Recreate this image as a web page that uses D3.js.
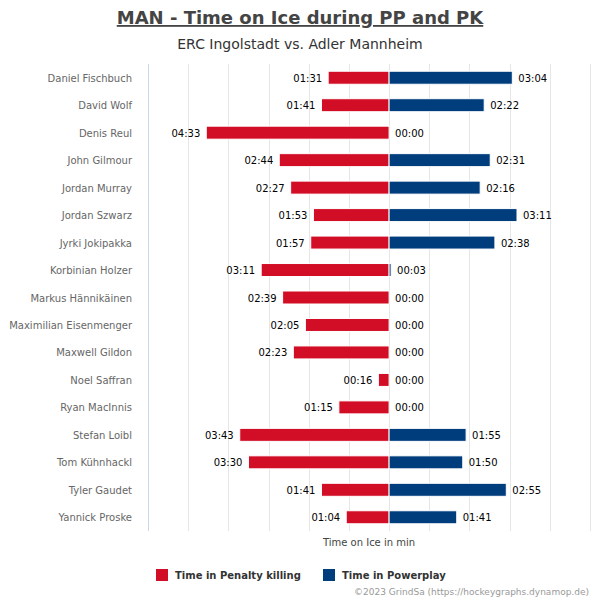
<!DOCTYPE html>
<html>
<head>
<meta charset="utf-8">
<script src="https://cdn.jsdelivr.net/npm/d3@7"></script>
<style>
  body { margin: 0; background: #fff; }
  text { font-family: "DejaVu Sans", sans-serif; }
</style>
</head>
<body>
<div id="chart"></div>
<script>
// Players and their time on ice, in "mm:ss"
var players = ["Daniel Fischbuch", "David Wolf", "Denis Reul", "John Gilmour", "Jordan Murray",
  "Jordan Szwarz", "Jyrki Jokipakka", "Korbinian Holzer", "Markus Hännikäinen",
  "Maximilian Eisenmenger", "Maxwell Gildon", "Noel Saffran", "Ryan MacInnis",
  "Stefan Loibl", "Tom Kühnhackl", "Tyler Gaudet", "Yannick Proske"];
var penaltyKilling = ["01:31", "01:41", "04:33", "02:44", "02:27", "01:53", "01:57", "03:11", "02:39",
  "02:05", "02:23", "00:16", "01:15", "03:43", "03:30", "01:41", "01:04"];
var powerplay = ["03:04", "02:22", "00:00", "02:31", "02:16", "03:11", "02:38", "00:03", "00:00",
  "00:00", "00:00", "00:00", "00:00", "01:55", "01:50", "02:55", "01:41"];
var gridMinutes = [-6, -5, -4, -3, -2, -1, 0, 1, 2, 3, 4, 5];

var red = "#d20e27", blue = "#003d7d";

function toSec(s) {
  var p = s.split(":");
  return +p[0] * 60 + +p[1];
}

var svgWidth = 600, svgHeight = 600;
var svg = d3.select("#chart").append("svg")
    .attr("width", svgWidth)
    .attr("height", svgHeight);

var margin = { top: 64, bottom: 69, left: 148, right: 10 };
var width = svgWidth - margin.left - margin.right;
var height = svgHeight - margin.top - margin.bottom;

var x = d3.scaleLinear().domain([-360, 300]).range([0, width]);
var y = d3.scaleBand().domain(players).range([0, height]);

// title + subtitle
svg.append("text")
    .attr("x", 300).attr("y", 24)
    .attr("text-anchor", "middle")
    .attr("font-size", 18)
    .attr("font-weight", "bold")
    .attr("fill", "#444")
    .attr("text-decoration", "underline")
    .text("MAN - Time on Ice during PP and PK");

svg.append("text")
    .attr("x", 300).attr("y", 49)
    .attr("text-anchor", "middle")
    .attr("font-size", 14)
    .attr("fill", "#333")
    .text("ERC Ingolstadt vs. Adler Mannheim");

var chartGroup = svg.append("g")
    .attr("transform", `translate(${margin.left}, ${margin.top})`);

// grid
chartGroup.append("g")
    .selectAll("line")
    .data(gridMinutes)
    .enter()
    .append("line")
    .attr("x1", d => Math.round(x(d * 60)) + 0.5)
    .attr("x2", d => Math.round(x(d * 60)) + 0.5)
    .attr("y1", 0)
    .attr("y2", height)
    .attr("stroke", (d, i) => i == 0 ? "#ccd6eb" : "#e6e6e6");

// player names
chartGroup.append("g")
    .selectAll("text")
    .data(players)
    .enter()
    .append("text")
    .attr("x", -16)
    .attr("y", d => y(d) + y.bandwidth() / 2 + 4)
    .attr("text-anchor", "end")
    .attr("font-size", 10)
    .attr("fill", "#666")
    .text(d => d);

var barH = 13;

// penalty killing bars (to the left)
chartGroup.append("g")
    .selectAll("rect")
    .data(players)
    .enter()
    .append("rect")
    .attr("x", (d, i) => x(-toSec(penaltyKilling[i])))
    .attr("y", d => y(d) + y.bandwidth() / 2 - barH / 2)
    .attr("width", (d, i) => x(0) - x(-toSec(penaltyKilling[i])))
    .attr("height", barH)
    .attr("fill", red)
    .attr("stroke", "#fff")
    .attr("stroke-width", 1);

// powerplay bars (to the right)
chartGroup.append("g")
    .selectAll("rect")
    .data(players)
    .enter()
    .append("rect")
    .attr("x", x(0))
    .attr("y", d => y(d) + y.bandwidth() / 2 - barH / 2)
    .attr("width", (d, i) => x(toSec(powerplay[i])) - x(0))
    .attr("height", barH)
    .attr("fill", blue)
    .attr("stroke", "#fff")
    .attr("stroke-width", 1);

// value labels
chartGroup.append("g")
    .selectAll("text")
    .data(players)
    .enter()
    .append("text")
    .attr("x", (d, i) => x(-toSec(penaltyKilling[i])) - 6)
    .attr("y", d => y(d) + y.bandwidth() / 2 + 4)
    .attr("text-anchor", "end")
    .attr("font-size", 10)
    .attr("fill", "#000")
    .text((d, i) => penaltyKilling[i]);

chartGroup.append("g")
    .selectAll("text")
    .data(players)
    .enter()
    .append("text")
    .attr("x", (d, i) => x(toSec(powerplay[i])) + 6)
    .attr("y", d => y(d) + y.bandwidth() / 2 + 4)
    .attr("text-anchor", "start")
    .attr("font-size", 10)
    .attr("fill", "#000")
    .text((d, i) => powerplay[i]);

// axis title
chartGroup.append("text")
    .attr("x", width / 2)
    .attr("y", height + 15)
    .attr("text-anchor", "middle")
    .attr("font-size", 10)
    .attr("fill", "#444")
    .text("Time on Ice in min");

// legend
var legend = [["Time in Penalty killing", red, 156], ["Time in Powerplay", blue, 323]];
var lg = svg.append("g").selectAll("g")
    .data(legend)
    .enter()
    .append("g")
    .attr("transform", d => `translate(${d[2]}, 569)`);
lg.append("rect")
    .attr("width", 12).attr("height", 12)
    .attr("fill", d => d[1]);
lg.append("text")
    .attr("x", 19).attr("y", 10)
    .attr("font-size", 10)
    .attr("font-weight", "bold")
    .attr("fill", "#333")
    .text(d => d[0]);

// credits
svg.append("text")
    .attr("x", 589).attr("y", 595)
    .attr("text-anchor", "end")
    .attr("font-size", 9)
    .attr("fill", "#999")
    .text("©2023 GrindSa (https://hockeygraphs.dynamop.de)");
</script>
</body>
</html>
